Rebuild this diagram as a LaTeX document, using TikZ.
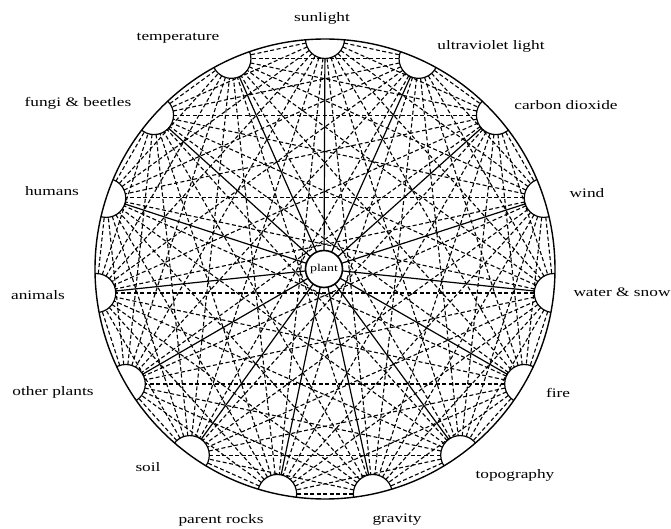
\documentclass[tikz,border=0pt]{standalone}
\usepackage{fontspec}
\setmainfont{Liberation Serif}
\newfontfamily\labfont[FakeStretch=1.33]{Liberation Serif}
\begin{document}
\begin{tikzpicture}[x=1pt,y=1pt,
  lab/.style={font=\labfont\fontsize{13}{15}\selectfont, inner sep=0pt},
  pn/.style={circle, minimum size=39pt, inner sep=0pt, outer sep=0pt},
  link/.style={dash pattern=on 4pt off 2.5pt, line width=1.1pt},
  spoke/.style={line width=1.2pt},
  plantnode/.style={circle, draw, line width=1.6pt, fill=white, minimum size=37pt, inner sep=0pt, outer sep=0pt, font=\labfont\fontsize{10.5}{12}\selectfont}]
\useasboundingbox (-325,-260) rectangle (346,269);
% peripheral factor nodes
\foreach \k in {0,...,14} {
  \pgfmathsetmacro\ang{90-24*\k}
  \node[pn] (n\k) at (\ang:230) {};
}
% dashed interconnections
\foreach \i in {0,...,13} {
  \pgfmathtruncatemacro\s{\i+1}
  \foreach \j in {\s,...,14} {
    \draw[link] (n\i) -- (n\j);
  }
}
% semicircle shapes
\begin{scope}
  \clip (0,0) circle (230);
  \foreach \k in {0,...,14} {
    \draw[line width=1.2pt, fill=white] (n\k.center) circle (19.5);
  }
\end{scope}
% plant and spokes
\node[plantnode] (p) at (-1,0) {plant};
\foreach \k in {0,...,14} {
  \draw[spoke] (p) -- (n\k);
}
\draw[line width=1.4pt] (0,0) circle (230);
% labels
\node[lab] (l0) at (-3,251) {sunlight};
\node[lab] (l1) at (166,223) {ultraviolet light};
\node[lab] (l2) at (241,164) {carbon dioxide};
\node[lab] (l3) at (262,76) {wind};
\node[lab] (l4) at (297,-23) {water \& snow};
\node[lab] (l5) at (233,-124) {fire};
\node[lab] (l6) at (190,-206) {topography};
\node[lab] (l7) at (72,-251) {gravity};
\node[lab] (l8) at (-104,-251) {parent rocks};
\node[lab] (l9) at (-177,-198) {soil};
\node[lab] (l10) at (-272,-123) {other plants};
\node[lab] (l11) at (-287,-26) {animals};
\node[lab] (l12) at (-273,78) {humans};
\node[lab] (l13) at (-247,166) {fungi \& beetles};
\node[lab] (l14) at (-147,231) {temperature};
\end{tikzpicture}
\end{document}
